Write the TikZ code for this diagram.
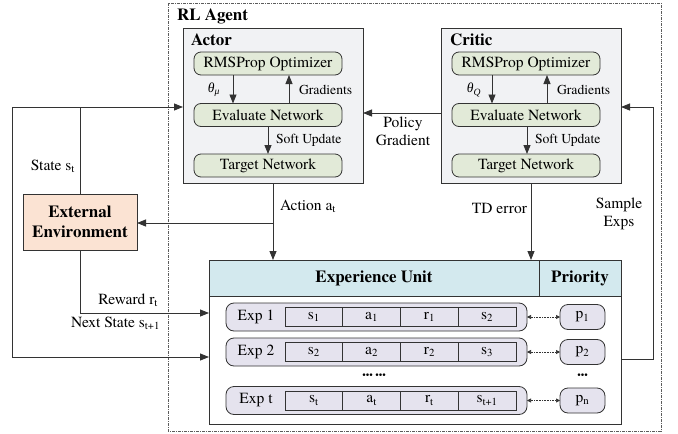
\documentclass[tikz,border=0pt]{standalone}
\usepackage{fontspec}
\setmainfont{texgyretermes}[Extension=.otf, UprightFont=*-regular, BoldFont=*-bold, ItalicFont=*-italic, BoldItalicFont=*-bolditalic]
\newfontfamily\grk{Liberation Serif}
\usetikzlibrary{arrows.meta}
\definecolor{actbg}{HTML}{F1F2F4}
\definecolor{netbg}{HTML}{E2EAD8}
\definecolor{envbg}{HTML}{FBE3D3}
\definecolor{hdbg}{HTML}{D3E9EE}
\definecolor{rowbg}{HTML}{E5E3EE}
\definecolor{ln}{HTML}{333333}
\begin{document}
\begin{tikzpicture}[x=1pt,y=-1pt,
  every node/.style={inner sep=0pt, outer sep=0pt},
  reg/.style={font=\fontsize{15.5}{17}\selectfont},
  sml/.style={font=\fontsize{13.7}{15}\selectfont},
  ttl/.style={font=\bfseries\fontsize{17}{19}\selectfont},
  panel/.style={draw=ln, line width=0.8pt, fill=actbg, minimum width=180pt, minimum height=155pt},
  net/.style={draw=ln, line width=0.8pt, fill=netbg, rounded corners=7pt, minimum width=148pt, minimum height=23pt, reg},
  envbox/.style={draw=ln, line width=0.8pt, fill=envbg, minimum width=114pt, minimum height=56pt, ttl, align=center},
  hdr/.style={draw=ln, line width=0.8pt, fill=hdbg, minimum height=36pt, ttl},
  rowbox/.style={draw=ln, line width=0.8pt, fill=rowbg, rounded corners=8pt, minimum width=301pt, minimum height=28pt},
  cell/.style={draw=ln, line width=0.7pt, fill=rowbg, minimum width=57.75pt, minimum height=19pt, reg},
  pbox/.style={draw=ln, line width=0.8pt, fill=rowbg, rounded corners=8pt, minimum width=45pt, minimum height=25pt, reg},
  arr/.style={draw=ln, line width=0.8pt, -{Triangle[length=9pt,width=7pt]}},
  darr/.style={draw=ln, line width=0.6pt, densely dotted, {Triangle[length=4pt,width=4pt]}-{Triangle[length=4pt,width=4pt]}},
  dots/.style={font=\fontsize{10}{10}\selectfont}
]
\useasboundingbox (0,0) rectangle (678,434);
% RL agent frame
\draw[draw=ln!80, line width=0.7pt, dash pattern=on 3pt off 1pt on 1pt off 1pt] (168,3) rectangle (661,431);
\node[ttl, anchor=west] (agentlbl) at (177,16) {RL Agent};

% Actor
\node[panel] (actor) at (273,105.5) {};
\node[ttl, anchor=west] (actorlbl) at (191,40) {Actor};
\node[net] (aopt) at (268,63.5) {RMSProp Optimizer};
\node[net] (aeval) at (268,115) {Evaluate Network};
\node[net] (atgt) at (268,165.5) {Target Network};
\draw[arr] ([xshift=-35pt]aopt.south) -- ([xshift=-35pt]aeval.north);
\draw[arr] ([xshift=21pt]aeval.north) -- ([xshift=21pt]aopt.south);
\draw[arr] (aeval.south) -- (atgt.north);
\node[sml] (amu) at (214,90) {\grk\itshape θ\textsubscript{μ}};
\node[sml, anchor=west] (agrad) at (299,90) {Gradients};
\node[sml, anchor=west] (asoft) at (276,140) {Soft Update};

% Critic
\node[panel] (critic) at (531,105.5) {};
\node[ttl, anchor=west] (criticlbl) at (450,40) {Critic};
\node[net] (copt) at (526,63.5) {RMSProp Optimizer};
\node[net] (ceval) at (526,115) {Evaluate Network};
\node[net] (ctgt) at (526,165.5) {Target Network};
\draw[arr] ([xshift=-34pt]copt.south) -- ([xshift=-34pt]ceval.north);
\draw[arr] ([xshift=21pt]ceval.north) -- ([xshift=21pt]copt.south);
\draw[arr] ([xshift=1pt]ceval.south) -- ([xshift=1pt]ctgt.north);
\node[sml] (cq) at (474,90) {\grk\itshape θ\textsubscript{Q}};
\node[sml, anchor=west] (cgrad) at (557,90) {Gradients};
\node[sml, anchor=west] (csoft) at (535,140) {Soft Update};

% Environment
\node[envbox] (env) at (80,222) {External\\[1pt]Environment};

% Experience unit
\node[draw=ln, line width=0.8pt, fill=white, minimum width=412pt, minimum height=164pt] (exp) at (415,342) {};
\node[hdr, minimum width=330pt] (hexp) at (374,278) {Experience Unit};
\node[hdr, minimum width=82pt] (hpri) at (580,278) {Priority};

% rows
\node[rowbox] (r1) at (376.5,317) {};
\node[rowbox] (r2) at (376.5,352) {};
\node[rowbox] (r3) at (376.5,400.5) {};
\node[reg] (e1) at (256,317) {Exp 1};
\node[reg] (e2) at (256,352) {Exp 2};
\node[reg] (e3) at (256,400.5) {Exp t};
\node[cell] (c11) at (313.9,317) {s\textsubscript{1}};
\node[cell] (c12) at (371.6,317) {a\textsubscript{1}};
\node[cell] (c13) at (429.4,317) {r\textsubscript{1}};
\node[cell] (c14) at (487.1,317) {s\textsubscript{2}};
\node[cell] (c21) at (313.9,352) {s\textsubscript{2}};
\node[cell] (c22) at (371.6,352) {a\textsubscript{2}};
\node[cell] (c23) at (429.4,352) {r\textsubscript{2}};
\node[cell] (c24) at (487.1,352) {s\textsubscript{3}};
\node[cell] (c31) at (313.9,400.5) {s\textsubscript{t}};
\node[cell] (c32) at (371.6,400.5) {a\textsubscript{t}};
\node[cell] (c33) at (429.4,400.5) {r\textsubscript{t}};
\node[cell] (c34) at (487.1,400.5) {s\textsubscript{t+1}};
\node[pbox] (p1) at (582.5,317) {p\textsubscript{1}};
\node[pbox] (p2) at (582.5,352) {p\textsubscript{2}};
\node[pbox] (p3) at (582.5,400.5) {p\textsubscript{n}};
\draw[darr] (r1.east) -- (p1.west);
\draw[darr] (r2.east) -- (p2.west);
\draw[darr] (r3.east) -- (p3.west);
\node[dots] (d1) at (374,376) {••• •••};
\node[dots] (d2) at (582.5,376) {•••};

% connectors
\coordinate (sj) at (80,107);
\coordinate (sl) at (12,107);
\coordinate (sb) at (12,357);
\draw[arr] (env.north) -- (sj) -- (sj -| actor.west);
\draw[draw=ln, line width=0.8pt] (sj) -- (sl);
\draw[arr] (sl) -- (sb) -- (sb -| exp.west);
\node[reg, anchor=east] (statel) at (75,166) {State s\textsubscript{t}};

\coordinate (aj) at (273,223);
\draw[arr] (actor.south) -- (actor.south |- exp.north);
\draw[arr] (aj) -- (aj -| env.east);
\node[reg, anchor=west] (actl) at (280,206) {Action a\textsubscript{t}};

\draw[arr] ([yshift=-7.5pt]critic.west) -- ([yshift=-7.5pt]actor.east);
\node[reg, align=center] (pgl) at (403,131) {Policy\\[1pt]Gradient};

\draw[arr] (critic.south) -- (critic.south |- exp.north);
\node[reg, anchor=east] (tdl) at (527,208) {TD error};

\coordinate (sx) at (653,359);
\coordinate (st) at (653,107);
\draw[arr] (exp.east |- sx) -- (sx) -- (st) -- (st -| critic.east);
\node[reg, align=center] (sel) at (619,214) {Sample\\[1pt]Exps};

\coordinate (rj) at (80,313);
\draw[arr] (env.south) -- (rj) -- (rj -| exp.west);
\node[reg, anchor=east] (rewl) at (158,300) {Reward r\textsubscript{t}};
\node[reg, anchor=east] (nsl) at (160,323) {Next State s\textsubscript{t+1}};
\end{tikzpicture}
\end{document}
